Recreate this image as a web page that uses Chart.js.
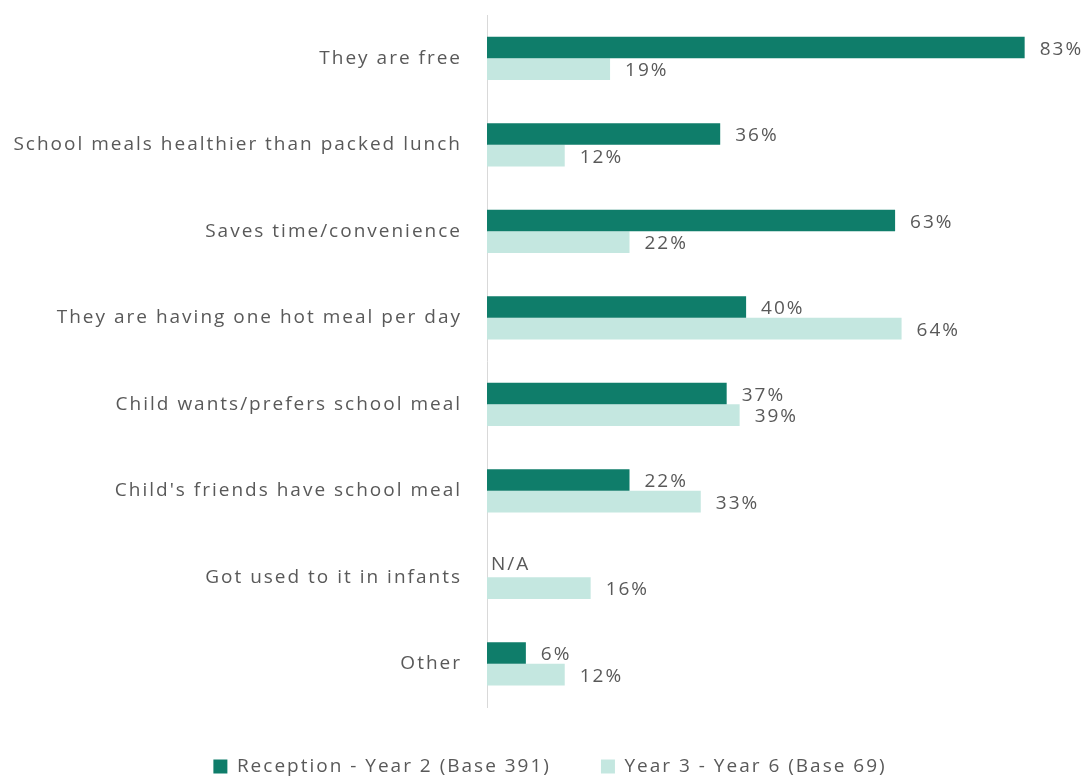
<!DOCTYPE html>
<html lang="en">
  <head>
    <meta charset="UTF-8" />
    <title>Reasons for school meals</title>
    <style>
      html, body { margin: 0; padding: 0; background: #fff; }
      #wrap { width: 1090px; height: 776px; }
    </style>
  </head>
  <body>
    <div id="wrap">
      <canvas id="myChart"></canvas>
    </div>
    <script src="https://cdn.jsdelivr.net/npm/chart.js"></script>
    <script>
      const categories = [
        'They are free',
        'School meals healthier than packed lunch',
        'Saves time/convenience',
        'They are having one hot meal per day',
        'Child wants/prefers school meal',
        "Child's friends have school meal",
        'Got used to it in infants',
        'Other',
      ];
      const reception = [83, 36, 63, 40, 37, 22, null, 6];
      const year3to6 = [19, 12, 22, 64, 39, 33, 16, 12];
      const seriesNames = ['Reception - Year 2 (Base 391)', 'Year 3 - Year 6 (Base 69)'];

      const FONT = '"Open Sans", sans-serif';
      const GREY = '#595959';
      const SPACING = '2px';

      // the reference text is widely spaced, so widen the canvas letter spacing
      const spacing = {
        id: 'spacing',
        beforeLayout(chart) { chart.ctx.letterSpacing = SPACING; },
        beforeDraw(chart) { chart.ctx.letterSpacing = SPACING; },
        afterLayout(chart) {
          // legend in the reference sits a little right of centre
          chart.legend.left += 15;
          chart.legend.right += 15;
        },
      };

      const valueLabels = {
        id: 'valueLabels',
        afterDatasetsDraw(chart) {
          const ctx = chart.ctx;
          const yScale = chart.scales.y;
          ctx.save();
          ctx.letterSpacing = SPACING;
          ctx.font = '19px ' + FONT;
          ctx.fillStyle = GREY;
          ctx.textBaseline = 'middle';
          ctx.textAlign = 'left';
          chart.data.datasets.forEach((ds, di) => {
            const meta = chart.getDatasetMeta(di);
            meta.data.forEach((bar, i) => {
              const v = ds.data[i];
              if (v === null) {
                const h = meta.data.find((b) => b && isFinite(b.height)).height;
                const y = yScale.getPixelForValue(i) - h / 2 + (di === 0 ? 0 : h);
                ctx.fillText('N/A', chart.chartArea.left + 4, y - 2);
              } else {
                ctx.fillText(v + '%', bar.x + 15, bar.y + 2);
              }
            });
          });
          ctx.restore();
        },
      };

      const config = {
        type: 'bar',
        data: {
          labels: categories,
          datasets: [
            {
              label: seriesNames[0],
              data: reception,
              backgroundColor: '#0f7d6a',
              categoryPercentage: 0.5,
              barPercentage: 1.0,
            },
            {
              label: seriesNames[1],
              data: year3to6,
              backgroundColor: '#c4e7e0',
              categoryPercentage: 0.5,
              barPercentage: 1.0,
            },
          ],
        },
        options: {
          indexAxis: 'y',
          responsive: true,
          maintainAspectRatio: false,
          animation: false,
          layout: { padding: { top: 15, right: 20, bottom: -10, left: 0 } },
          scales: {
            x: {
              min: 0,
              max: 90,
              display: false,
            },
            y: {
              grid: { display: false },
              border: { display: true, color: '#d9d9d9', width: 1 },
              ticks: {
                color: GREY,
                font: { family: FONT, size: 19 },
                padding: 17,
              },
              afterFit(scale) {
                scale.width = 487;
                scale.paddingTop = 0;
                scale.paddingBottom = 0;
              },
            },
          },
          plugins: {
            legend: {
              position: 'bottom',
              labels: {
                color: GREY,
                font: { family: FONT, size: 19 },
                boxWidth: 14,
                boxHeight: 14,
                padding: 50,
              },
            },
            tooltip: { enabled: false },
          },
        },
        plugins: [spacing, valueLabels],
      };

      new Chart(document.getElementById('myChart'), config);
    </script>
  </body>
</html>
